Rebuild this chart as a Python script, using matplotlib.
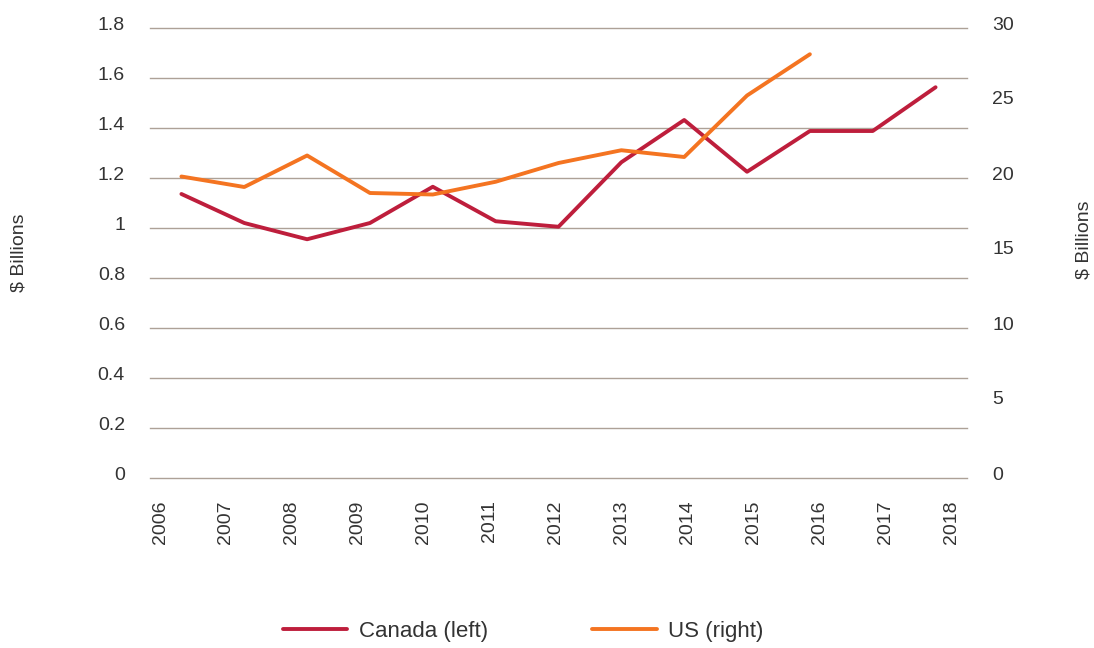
import matplotlib
matplotlib.use("Agg")
import matplotlib.pyplot as plt
import matplotlib.transforms as mtransforms
import numpy as np

years = ["2006", "2007", "2008", "2009", "2010", "2011", "2012",
         "2013", "2014", "2015", "2016", "2017", "2018"]
canada = [1.136, 1.02, 0.955, 1.02, 1.165, 1.027, 1.005,
          1.263, 1.432, 1.225, 1.388, 1.388, 1.563]
us = [20.1, 19.4, 21.5, 19.0, 18.9, 19.75, 21.0,
      21.85, 21.4, 25.5, 28.25, None, None]
left_ticks = [0, 0.2, 0.4, 0.6, 0.8, 1, 1.2, 1.4, 1.6, 1.8]
left_labels = ["0", "0.2", "0.4", "0.6", "0.8", "1", "1.2", "1.4", "1.6", "1.8"]
right_ticks = [0, 5, 10, 15, 20, 25, 30]

plt.rcParams['font.family'] = ['Liberation Sans', 'DejaVu Sans']
TXT = "#333333"
GRID = "#ADA197"
RED = "#BE1E3C"
ORANGE = "#F47421"

fig = plt.figure(figsize=(10.94, 6.48), dpi=100)
ax = fig.add_axes([150/1094, 1-478/648, 817/1094, 450/648])
x = np.arange(len(years))
ax.set_xlim(-0.5, len(years)-0.5)
ax.set_ylim(0, 1.8)
ax.set_yticks(left_ticks)
ax.set_yticklabels(left_labels)
ax.grid(axis='y', color=GRID, linewidth=1)
for gl in ax.yaxis.get_gridlines():
    gl.set_clip_on(False)
ax.set_axisbelow(True)
for s in ax.spines.values():
    s.set_visible(False)
ax.tick_params(axis='y', length=0, pad=18, labelsize=14, labelcolor=TXT)
ax.set_xticks([])

ax2 = ax.twinx()
ax2.set_ylim(0, 30)
ax2.set_yticks(right_ticks)
for s in ax2.spines.values():
    s.set_visible(False)
ax2.tick_params(axis='y', length=0, pad=18, labelsize=14, labelcolor=TXT)

l1, = ax.plot(x, canada, color=RED, lw=2.8, solid_capstyle='round', zorder=3)
us_arr = np.array([np.nan if v is None else v for v in us], dtype=float)
l2, = ax2.plot(x, us_arr, color=ORANGE, lw=2.8, solid_capstyle='round', zorder=3)

# year labels (category labels)
ax3 = ax.twiny()
ax3.set_xlim(-0.1517, 12.242)
ax3.xaxis.set_ticks_position('bottom')
ax3.set_xticks(x)
ax3.set_xticklabels(years, rotation=90)
for s in ax3.spines.values():
    s.set_visible(False)
ax3.tick_params(axis='x', length=0, pad=16, labelsize=14, labelcolor=TXT)

off = mtransforms.ScaledTranslation(0, 5/100, fig.dpi_scale_trans)
for lab in ax.get_yticklabels() + ax2.get_yticklabels():
    lab.set_transform(lab.get_transform() + off)

fig.text(19/1094, 1-253/648, "$ Billions", rotation=90, ha='center', va='center',
         fontsize=14, color=TXT)
fig.text(1084/1094, 1-240/648, "$ Billions", rotation=90, ha='center', va='center',
         fontsize=14, color=TXT)

fig.legend([l1, l2], ["Canada (left)", "US (right)"], loc='center',
           bbox_to_anchor=(523/1094, 1-631/648), ncol=2, frameon=False,
           fontsize=16, handlelength=2.9, handletextpad=0.5, columnspacing=4.7,
           labelcolor=TXT)

fig.savefig("out.png", dpi=100)
